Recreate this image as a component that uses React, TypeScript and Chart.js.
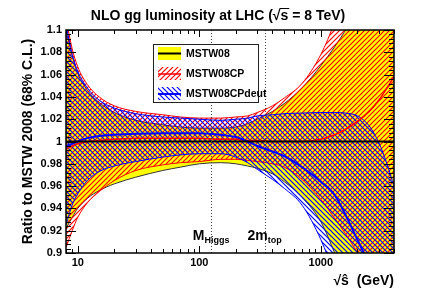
import React, { useEffect, useRef } from 'react';
import { Chart, registerables } from 'chart.js';

Chart.register(...registerables);

// ---------- data ----------
const sqrtS = [8, 9, 10, 12, 15, 20, 30, 50, 70, 100, 150, 200, 250, 300, 400, 500, 700, 1000, 1300, 1600, 2000, 2500, 3000, 3500, 4000];

const mstw08Central = [1, 1, 1, 1, 1, 1, 1, 1, 1, 1, 1, 1, 1, 1, 1, 1, 1, 1, 1, 1, 1, 1, 1, 1, 1];
const mstw08Up = [1.100, 1.077, 1.061, 1.046, 1.035, 1.026, 1.019, 1.015, 1.013, 1.012, 1.012, 1.013, 1.016, 1.020, 1.027, 1.034, 1.048, 1.068, 1.085, 1.100, 1.118, 1.140, 1.160, 1.180, 1.200];
const mstw08Low = [0.922, 0.932, 0.940, 0.949, 0.956, 0.962, 0.968, 0.974, 0.977, 0.980, 0.981, 0.980, 0.978, 0.976, 0.971, 0.964, 0.950, 0.928, 0.900, 0.875, 0.850, 0.820, 0.790, 0.760, 0.730];

const cpCentral = [0.993, 0.996, 0.998, 1.000, 1.001, 1.002, 1.003, 1.003, 1.003, 1.003, 1.002, 1.002, 1.001, 1.001, 1.000, 1.000, 1.000, 1.002, 1.006, 1.011, 1.018, 1.027, 1.037, 1.048, 1.058];
const cpUp = [1.110, 1.083, 1.067, 1.051, 1.040, 1.032, 1.027, 1.024, 1.022, 1.021, 1.021, 1.022, 1.023, 1.026, 1.032, 1.039, 1.052, 1.078, 1.107, 1.135, 1.170, 1.210, 1.250, 1.290, 1.330];
const cpLow = [0.905, 0.920, 0.932, 0.945, 0.955, 0.965, 0.974, 0.979, 0.981, 0.982, 0.984, 0.984, 0.983, 0.982, 0.980, 0.977, 0.966, 0.948, 0.931, 0.917, 0.900, 0.880, 0.860, 0.840, 0.820];

const cpdCentral = [0.996, 0.998, 1.000, 1.003, 1.005, 1.006, 1.007, 1.0075, 1.0075, 1.0075, 1.006, 1.004, 1.000, 0.996, 0.991, 0.987, 0.977, 0.964, 0.952, 0.934, 0.912, 0.890, 0.870, 0.850, 0.830];
const cpdUp = [1.105, 1.078, 1.063, 1.048, 1.037, 1.030, 1.025, 1.022, 1.021, 1.020, 1.019, 1.020, 1.021, 1.023, 1.024, 1.025, 1.0255, 1.026, 1.026, 1.0255, 1.023, 1.014, 0.999, 0.980, 0.960];
const cpdLow = [0.925, 0.943, 0.953, 0.965, 0.973, 0.978, 0.982, 0.986, 0.988, 0.989, 0.989, 0.986, 0.981, 0.975, 0.966, 0.958, 0.943, 0.912, 0.880, 0.850, 0.810, 0.770, 0.730, 0.690, 0.650];

const xTickValues = [10, 100, 1000];
const xTickLabels = ['10', '100', '1000'];
const xMinorTicks = [8, 9, 10, 20, 30, 40, 50, 60, 70, 80, 90, 100, 200, 300, 400, 500, 600, 700, 800, 900, 1000, 2000, 3000, 4000];
const yTickLabels = ['0.9', '0.92', '0.94', '0.96', '0.98', '1', '1.02', '1.04', '1.06', '1.08', '1.1'];

const markerValues = [125, 345];
const markerMain = ['M', '2m'];
const markerSub = ['Higgs', 'top'];

const legendNames = ['MSTW08', 'MSTW08CP', 'MSTW08CPdeut'];
const titleParts = ['NLO gg luminosity at LHC (\u221A', 's', ' = 8 TeV)'];

const FONT = '"Liberation Sans", Arial, Helvetica, sans-serif';
const YELLOW = '#ffff00';
const RED = '#ff0000';
const BLUE = '#0000ff';

function makeHatch(color: string, dir: number) {
  const s = 5;
  const c = document.createElement('canvas');
  c.width = s;
  c.height = s;
  const g = c.getContext('2d') as CanvasRenderingContext2D;
  g.strokeStyle = color;
  g.lineWidth = 1.2;
  g.beginPath();
  if (dir > 0) {
    g.moveTo(0, s); g.lineTo(s, 0);
    g.moveTo(-1, 1); g.lineTo(1, -1);
    g.moveTo(s - 1, s + 1); g.lineTo(s + 1, s - 1);
  } else {
    g.moveTo(0, 0); g.lineTo(s, s);
    g.moveTo(-1, s - 1); g.lineTo(1, s + 1);
    g.moveTo(s - 1, -1); g.lineTo(s + 1, 1);
  }
  g.stroke();
  return g.createPattern(c, 'repeat') as CanvasPattern;
}

export default function App() {
  const ref = useRef<HTMLCanvasElement | null>(null);

  useEffect(() => {
    const canvas = ref.current;
    if (!canvas) return;
    const redHatch = makeHatch(RED, 1);
    const blueHatch = makeHatch(BLUE, -1);

    const pts = (ys: number[]) => sqrtS.map((x, i) => ({ x, y: ys[i] }));
    const ds = (data: number[], color: string, width: number, fill: any, bg: any, order: number) => ({
      data: pts(data),
      borderColor: color,
      borderWidth: width,
      pointRadius: 0,
      pointHoverRadius: 0,
      fill,
      backgroundColor: bg,
      order,
      cubicInterpolationMode: 'monotone',
      clip: 0,
    });

    const decor = {
      id: 'decor',
      afterDatasetsDraw(chart: any) {
        const { ctx, chartArea: a, scales } = chart;
        const x = scales.x;
        const y = scales.y;
        ctx.save();
        // marker lines
        ctx.strokeStyle = '#444';
        ctx.lineWidth = 1;
        ctx.setLineDash([1, 2]);
        markerValues.forEach((v) => {
          const px = Math.round(x.getPixelForValue(v)) + 0.5;
          ctx.beginPath();
          ctx.moveTo(px, a.top);
          ctx.lineTo(px, a.bottom);
          ctx.stroke();
        });
        ctx.setLineDash([]);
        // marker labels
        ctx.fillStyle = '#000';
        ctx.textBaseline = 'alphabetic';
        markerValues.forEach((v, i) => {
          const px = x.getPixelForValue(v);
          ctx.font = `bold 14px ${FONT}`;
          const w1 = ctx.measureText(markerMain[i]).width;
          ctx.font = `bold 9px ${FONT}`;
          const w2 = ctx.measureText(markerSub[i]).width;
          const x0 = px - (w1 + w2) / 2;
          ctx.font = `bold 14px ${FONT}`;
          ctx.textAlign = 'left';
          ctx.fillText(markerMain[i], x0, 240);
          ctx.font = `bold 9px ${FONT}`;
          ctx.fillText(markerSub[i], x0 + w1, 243);
        });
        // frame
        ctx.strokeStyle = '#000';
        ctx.lineWidth = 1.5;
        ctx.strokeRect(a.left, a.top, a.right - a.left, a.bottom - a.top);
        // x ticks (bottom and top)
        ctx.lineWidth = 1;
        xMinorTicks.forEach((v) => {
          const major = xTickValues.indexOf(v) >= 0;
          const len = major ? 7 : 4;
          const px = Math.round(x.getPixelForValue(v)) + 0.5;
          ctx.beginPath();
          ctx.moveTo(px, a.bottom);
          ctx.lineTo(px, a.bottom - len);
          ctx.moveTo(px, a.top);
          ctx.lineTo(px, a.top + len);
          ctx.stroke();
        });
        // y ticks (left and right)
        for (let k = 0; k <= 50; k++) {
          const v = 0.9 + k * 0.004;
          const major = k % 5 === 0;
          const len = major ? 10 : 5;
          const py = Math.round(y.getPixelForValue(v)) + 0.5;
          ctx.beginPath();
          ctx.moveTo(a.left, py);
          ctx.lineTo(a.left + len, py);
          ctx.moveTo(a.right, py);
          ctx.lineTo(a.right - len, py);
          ctx.stroke();
        }
        ctx.restore();
      },
      afterDraw(chart: any) {
        const { ctx } = chart;
        ctx.save();
        // title
        ctx.font = `bold 14px ${FONT}`;
        ctx.fillStyle = '#000';
        ctx.textAlign = 'left';
        ctx.textBaseline = 'alphabetic';
        const w0 = ctx.measureText(titleParts[0]).width;
        const w1 = ctx.measureText(titleParts[1]).width;
        const w2 = ctx.measureText(titleParts[2]).width;
        const tx = 218 - (w0 + w1 + w2) / 2;
        const ty = 20;
        ctx.fillText(titleParts[0], tx, ty);
        ctx.fillText(titleParts[1], tx + w0, ty);
        ctx.fillText(titleParts[2], tx + w0 + w1, ty);
        ctx.strokeStyle = '#000';
        ctx.lineWidth = 1;
        ctx.beginPath();
        ctx.moveTo(tx + w0 - 1, 8.5);
        ctx.lineTo(tx + w0 + w1 + 1, 8.5);
        ctx.stroke();

        // legend
        ctx.fillStyle = '#fff';
        ctx.fillRect(153.5, 44.5, 105, 58);
        ctx.strokeStyle = '#222';
        ctx.lineWidth = 1;
        ctx.strokeRect(153.5, 44.5, 105, 58);
        const rows = [47, 67, 87];
        // MSTW08
        ctx.fillStyle = YELLOW;
        ctx.fillRect(158, rows[0], 23, 13);
        ctx.strokeStyle = '#000';
        ctx.lineWidth = 2;
        ctx.beginPath(); ctx.moveTo(158, rows[0] + 6.5); ctx.lineTo(181, rows[0] + 6.5); ctx.stroke();
        // CP
        ctx.fillStyle = redHatch;
        ctx.fillRect(158, rows[1], 23, 13);
        ctx.strokeStyle = RED;
        ctx.lineWidth = 1.5;
        ctx.beginPath(); ctx.moveTo(158, rows[1] + 7); ctx.lineTo(181, rows[1] + 7); ctx.stroke();
        // CPdeut
        ctx.fillStyle = blueHatch;
        ctx.fillRect(158, rows[2], 23, 13);
        ctx.strokeStyle = BLUE;
        ctx.lineWidth = 2;
        ctx.beginPath(); ctx.moveTo(158, rows[2] + 7); ctx.lineTo(181, rows[2] + 7); ctx.stroke();
        ctx.fillStyle = '#000';
        ctx.font = `bold 10.5px ${FONT}`;
        ctx.textBaseline = 'middle';
        legendNames.forEach((n, i) => ctx.fillText(n, 186, rows[i] + 7));
        ctx.restore();
      },
    };

    const chart = new Chart(canvas, {
      type: 'line',
      data: {
        datasets: [
          ds(mstw08Up, '#333', 1, '+1', YELLOW, 30),
          ds(mstw08Low, '#333', 1, false, 'transparent', 29),
          ds(cpUp, RED, 1, '+1', redHatch, 20),
          ds(cpLow, RED, 1, false, 'transparent', 19),
          ds(cpdUp, BLUE, 1, '+1', blueHatch, 10),
          ds(cpdLow, BLUE, 1, false, 'transparent', 9),
          ds(cpCentral, RED, 1.5, false, 'transparent', 5),
          ds(cpdCentral, BLUE, 2, false, 'transparent', 4),
          ds(mstw08Central, '#000', 2, false, 'transparent', 3),
        ] as any,
      },
      options: {
        responsive: false,
        animation: false,
        devicePixelRatio: 1,
        layout: { padding: { top: 30, right: 44, left: 0, bottom: 0 } },
        plugins: {
          legend: { display: false },
          tooltip: { enabled: false },
          title: { display: false },
        },
        scales: {
          x: {
            type: 'logarithmic',
            min: 8,
            max: 4000,
            grid: { display: false, drawTicks: false },
            border: { display: false },
            afterBuildTicks: (s: any) => {
              s.ticks = xTickValues.map((v) => ({ value: v }));
            },
            afterFit: (s: any) => {
              s.height = 44;
            },
            ticks: {
              autoSkip: false,
              maxRotation: 0,
              padding: 3,
              color: '#000',
              font: { family: FONT, size: 11, weight: 'bold' },
              callback: (v: any, i: number) => xTickLabels[i],
            },
            title: {
              display: true,
              text: '\u221A\u015D  (GeV)',
              align: 'end',
              color: '#000',
              font: { family: FONT, size: 14, weight: 'bold' },
              padding: { top: 0, bottom: 7 },
            },
          },
          y: {
            type: 'linear',
            min: 0.9,
            max: 1.1,
            grid: { display: false, drawTicks: false },
            border: { display: false },
            afterBuildTicks: (s: any) => {
              s.ticks = yTickLabels.map((l) => ({ value: parseFloat(l) }));
            },
            afterFit: (s: any) => {
              s.width = 66;
            },
            ticks: {
              padding: 4,
              color: '#000',
              font: { family: FONT, size: 11, weight: 'bold' },
              callback: (v: any, i: number) => yTickLabels[i],
            },
            title: {
              display: true,
              text: 'Ratio to MSTW 2008 (68% C.L.)',
              color: '#000',
              font: { family: FONT, size: 14, weight: 'bold' },
              padding: { top: 20, bottom: 0 },
            },
          },
        },
      } as any,
      plugins: [decor],
    });
    return () => chart.destroy();
  }, []);

  return (
    <div style={{ position: 'absolute', left: 0, top: 0, width: 438, height: 297, background: '#fff' }}>
      <canvas ref={ref} width={438} height={297} style={{ display: 'block' }} />
    </div>
  );
}
